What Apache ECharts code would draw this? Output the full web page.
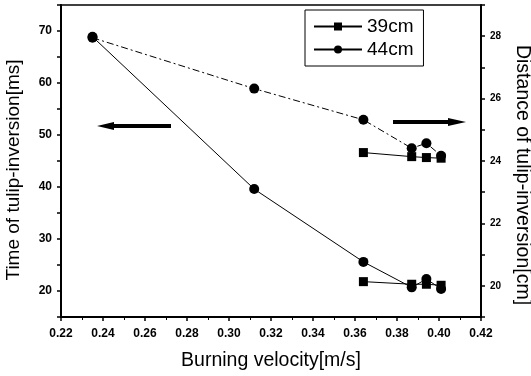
<!DOCTYPE html>
<html>
<head>
<meta charset="utf-8">
<script src="https://cdn.jsdelivr.net/npm/echarts@6/dist/echarts.min.js"></script>
<style>
  * { margin: 0; padding: 0; }
  #main { width: 531px; height: 376px; background: #fff; }
</style>
</head>
<body>
<div id="main"></div>
<script>
// burning velocity [m/s]
var velocity44 = [0.235, 0.312, 0.364, 0.387, 0.394, 0.401];
var velocity39 = [0.364, 0.387, 0.394, 0.401];
// time of tulip-inversion [ms] (left axis)
var time44 = [68.9, 39.6, 25.6, 20.7, 22.3, 20.4];
var time39 = [21.8, 21.3, 21.3, 21.1];
// distance of tulip-inversion [cm] (right axis)
var dist44 = [27.95, 26.32, 25.32, 24.41, 24.57, 24.17];
var dist39 = [24.27, 24.14, 24.11, 24.09];

function pairs(xs, ys) {
  return xs.map(function (x, i) { return [x, ys[i]]; });
}

var font = 'Liberation Sans, Arial, sans-serif';
var chart = echarts.init(document.getElementById('main'));

chart.setOption({
  animation: false,
  backgroundColor: '#fff',
  grid: {
    left: 61, right: 50, top: 5, bottom: 59,
    outerBoundsMode: 'none',
    containLabel: false,
    show: true, borderColor: '#000', borderWidth: 1.5
  },
  legend: {
    orient: 'vertical',
    left: 305, top: 10,
    data: ['39cm', '44cm'],
    itemWidth: 48, itemHeight: 10, itemGap: 4,
    padding: [7, 10, 7, 8],
    borderColor: '#000', borderWidth: 1,
    textStyle: { fontFamily: font, fontSize: 19, color: '#000' }
  },
  xAxis: {
    type: 'value',
    min: 0.22, max: 0.42, interval: 0.02,
    name: 'Burning velocity[m/s]',
    nameLocation: 'middle', nameGap: 34,
    nameTextStyle: { fontFamily: font, fontSize: 19.5, color: '#000' },
    axisLine: { lineStyle: { color: '#000', width: 2 } },
    axisTick: { length: 4, lineStyle: { color: '#000', width: 1.5 } },
    minorTick: { show: true, splitNumber: 2, length: 3, lineStyle: { color: '#000' } },
    splitLine: { show: false },
    axisLabel: {
      fontFamily: font, fontSize: 12, fontWeight: 'bold', color: '#000', margin: 11,
      formatter: function (v) { return v.toFixed(2); }
    }
  },
  yAxis: [{
    type: 'value',
    min: 15, max: 75, interval: 5,
    name: 'Time of tulip-inversion[ms]',
    nameLocation: 'middle', nameGap: 38,
    nameTextStyle: { fontFamily: font, fontSize: 19, color: '#000', padding: [0, 18, 0, 0] },
    axisLine: { show: true, lineStyle: { color: '#000', width: 2 } },
    axisTick: { show: true, length: 4, lineStyle: { color: '#000', width: 1.5 } },
    splitLine: { show: false },
    axisLabel: {
      fontFamily: font, fontSize: 12, fontWeight: 'bold', color: '#000', margin: 9,
      formatter: function (v) { return v % 10 === 0 ? v : ''; }
    }
  }, {
    type: 'value',
    position: 'right',
    min: 19, max: 29, interval: 1,
    name: 'Distance of tulip-inversion[cm]',
    nameLocation: 'middle', nameGap: 30, nameRotate: -90,
    nameTextStyle: { fontFamily: font, fontSize: 19.5, color: '#000', padding: [0, 0, 0, 28] },
    axisLine: { show: true, lineStyle: { color: '#000', width: 2 } },
    axisTick: { show: true, length: 4, lineStyle: { color: '#000', width: 1.5 } },
    splitLine: { show: false },
    axisLabel: {
      fontFamily: font, fontSize: 10, fontWeight: 'bold', color: '#000', margin: 9,
      formatter: function (v) { return v % 2 === 0 ? v : ''; }
    }
  }],
  series: [{
    name: '39cm', type: 'line', yAxisIndex: 0,
    data: pairs(velocity39, time39),
    symbol: 'rect', symbolSize: 9,
    itemStyle: { color: '#000' },
    lineStyle: { color: '#000', width: 1 }
  }, {
    name: '44cm', type: 'line', yAxisIndex: 0,
    data: pairs(velocity44, time44),
    symbol: 'circle', symbolSize: 10,
    itemStyle: { color: '#000' },
    lineStyle: { color: '#000', width: 1 }
  }, {
    name: '39cm', type: 'line', yAxisIndex: 1,
    data: pairs(velocity39, dist39),
    symbol: 'rect', symbolSize: 9,
    itemStyle: { color: '#000' },
    lineStyle: { color: '#000', width: 1 }
  }, {
    name: '44cm', type: 'line', yAxisIndex: 1,
    data: pairs(velocity44, dist44),
    symbol: 'circle', symbolSize: 10,
    itemStyle: { color: '#000' },
    lineStyle: { color: '#000', width: 1, type: [7, 3, 2, 3] }
  }],
  graphic: [
    // arrow pointing to left axis
    { type: 'line', shape: { x1: 112, y1: 126, x2: 171, y2: 126 }, style: { stroke: '#000', lineWidth: 4 } },
    { type: 'polygon', shape: { points: [[97, 126], [114, 122], [114, 130]] }, style: { fill: '#000' } },
    // arrow pointing to right axis
    { type: 'line', shape: { x1: 393, y1: 122, x2: 450, y2: 122 }, style: { stroke: '#000', lineWidth: 4 } },
    { type: 'polygon', shape: { points: [[466, 122], [448, 118], [448, 126]] }, style: { fill: '#000' } }
  ]
});
</script>
</body>
</html>
